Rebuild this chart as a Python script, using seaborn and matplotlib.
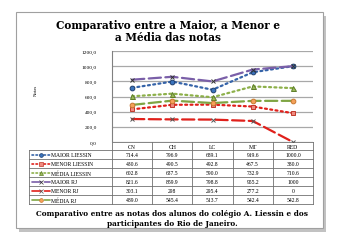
import numpy as np
import pandas as pd
import matplotlib
matplotlib.use("Agg")
import matplotlib.pyplot as plt
from matplotlib.patches import Rectangle
import seaborn as sns

# ---------------- data ----------------
categories = ["CN", "CH", "LC", "MT", "RED"]
series_names = ["MAIOR LIESSIN", "MENOR LIESSIN", "MÉDIA LIESSIN",
                "MAIOR RJ", "MENOR RJ", "MÉDIA RJ"]
maior_liessin = [714.4, 796.9, 689.1, 919.6, 1000.0]
menor_liessin = [430.6, 490.5, 492.8, 467.5, 380.0]
media_liessin = [602.8, 637.5, 590.0, 732.9, 710.6]
maior_rj = [821.6, 859.9, 798.8, 955.2, 1000]
menor_rj = [303.1, 298, 295.4, 277.2, 0]
media_rj = [489.0, 545.4, 513.7, 542.4, 542.8]
yticks = [0, 200, 400, 600, 800, 1000, 1200]

all_series = [maior_liessin, menor_liessin, media_liessin, maior_rj, menor_rj, media_rj]

# ---------------- styles ----------------
dot = (0, (0.9, 1.5))
dash = (0, (5.5, 2.0))
styles = [
    dict(color="#3563A8", linestyle=dot, marker="o", mfc="#3A73BD", mec="#1F3F6E", ms=3.4, lw=1.6),
    dict(color="#E0201B", linestyle=dot, marker="s", mfc="#F08A80", mec="#C0392B", ms=3.2, lw=1.6),
    dict(color="#8DB04A", linestyle=dot, marker="^", mfc="#9BBB59", mec="#5E7E2A", ms=3.6, lw=1.6),
    dict(color="#7A5FA8", linestyle=dash, marker="x", mfc="none", mec="#333333", ms=3.4, lw=1.6),
    dict(color="#E0201B", linestyle=dash, marker="x", mfc="none", mec="#555555", ms=3.4, lw=1.6),
    dict(color="#7FA544", linestyle=dash, marker="o", mfc="#F5A15A", mec="#C87830", ms=3.4, lw=1.6),
]

W, H = 351, 253
fig = plt.figure(figsize=(W / 100, H / 100), dpi=100)
fig.patch.set_facecolor("white")

ov = fig.add_axes([0, 0, 1, 1], zorder=0)
ov.set_xlim(0, W)
ov.set_ylim(H, 0)
ov.axis("off")

# frame with shadow
ov.add_patch(Rectangle((19, 17), 307, 216, facecolor="#9A9A9A", edgecolor="none", alpha=0.6))
ov.add_patch(Rectangle((16, 13), 307, 216, facecolor="white", edgecolor="#A0A0A0", lw=0.8))

serif = "DejaVu Serif"
ov.text(168, 25, "Comparativo entre a Maior, a Menor e", ha="center", va="center",
        fontsize=7.6, fontweight="bold", family=serif)
ov.text(168, 37.5, "a Média das notas", ha="center", va="center",
        fontsize=7.6, fontweight="bold", family=serif)

ov.text(36, 90, "Notas", rotation=90, ha="center", va="center", fontsize=3.5, family="Liberation Serif")

# ---------------- plot ----------------
x_left, x_right = 112, 313
y_top, y_bot = 52, 143
ax = fig.add_axes([x_left / W, 1 - y_bot / H, (x_right - x_left) / W, (y_bot - y_top) / H], zorder=2)
ax.set_facecolor("none")
xs = np.arange(len(categories))
for vals, st in zip(all_series, styles):
    sns.lineplot(x=xs, y=vals, ax=ax, color=st["color"], linestyle=st["linestyle"],
                 linewidth=st["lw"], marker=st["marker"], markersize=st["ms"],
                 markerfacecolor=st["mfc"], markeredgecolor=st["mec"], markeredgewidth=0.7,
                 dash_capstyle="round", solid_capstyle="round", legend=False)
ax.set_xlim(-0.5, len(categories) - 0.5)
ax.set_ylim(0, 1200)
ax.set_yticks(yticks)
ax.set_yticklabels([f"{v:.1f}".replace(".", ",") for v in yticks],
                   fontsize=3.9, family="Liberation Serif")
ax.set_xticks([])
ax.grid(axis="y", color="#A8A8A8", lw=0.9)
ax.set_axisbelow(True)
for s in ["top", "right", "bottom"]:
    ax.spines[s].set_visible(False)
ax.spines["left"].set_color("#808080")
ax.spines["left"].set_linewidth(0.8)
ax.tick_params(axis="y", length=0, pad=11)
ax.set_xlabel("")
ax.set_ylabel("")

# ---------------- data table ----------------
tab_left = 29
col_edges = np.linspace(x_left, x_right, len(categories) + 1)
row_edges = [143, 151, 160, 169, 178, 187, 196, 205]
lc = "#707070"
lw = 0.6
for i, y in enumerate(row_edges):
    x0 = x_left if i == 0 else tab_left
    ov.plot([x0, x_right], [y, y], color=lc, lw=lw, zorder=3)
for x in col_edges:
    ov.plot([x, x], [row_edges[0], row_edges[-1]], color=lc, lw=lw, zorder=3)
ov.plot([tab_left, tab_left], [row_edges[1], row_edges[-1]], color=lc, lw=lw, zorder=3)

tfont = dict(family="Liberation Serif", fontsize=4.1, zorder=4)
for j, c in enumerate(categories):
    ov.text((col_edges[j] + col_edges[j + 1]) / 2, (row_edges[0] + row_edges[1]) / 2 + 0.3, c,
            ha="center", va="center", **tfont)

def fmt(v):
    return str(v) if isinstance(v, int) else f"{v:.1f}"

for i, (name, vals, st) in enumerate(zip(series_names, all_series, styles)):
    yc = (row_edges[i + 1] + row_edges[i + 2]) / 2 + 0.3
    for j, v in enumerate(vals):
        ov.text((col_edges[j] + col_edges[j + 1]) / 2, yc, fmt(v), ha="center", va="center", **tfont)
    ov.plot([31.5, 49.5], [yc, yc], color=st["color"], linestyle=st["linestyle"],
            lw=1.2, solid_capstyle="round", dash_capstyle="round", zorder=4)
    ov.plot([40.5], [yc], marker=st["marker"], ms=st["ms"] * 0.8, mfc=st["mfc"],
            mec=st["mec"], mew=0.5, linestyle="none", zorder=5)
    ov.text(51, yc, name, ha="left", va="center", **tfont)

# caption
ov.text(172, 214.5, "Comparativo entre as notas dos alunos do colégio A. Liessin e dos",
        ha="center", va="center", fontsize=5.3, fontweight="bold", family=serif)
ov.text(172, 224, "participantes do Rio de Janeiro.",
        ha="center", va="center", fontsize=5.3, fontweight="bold", family=serif)

fig.savefig("out.png", dpi=100, facecolor="white")
